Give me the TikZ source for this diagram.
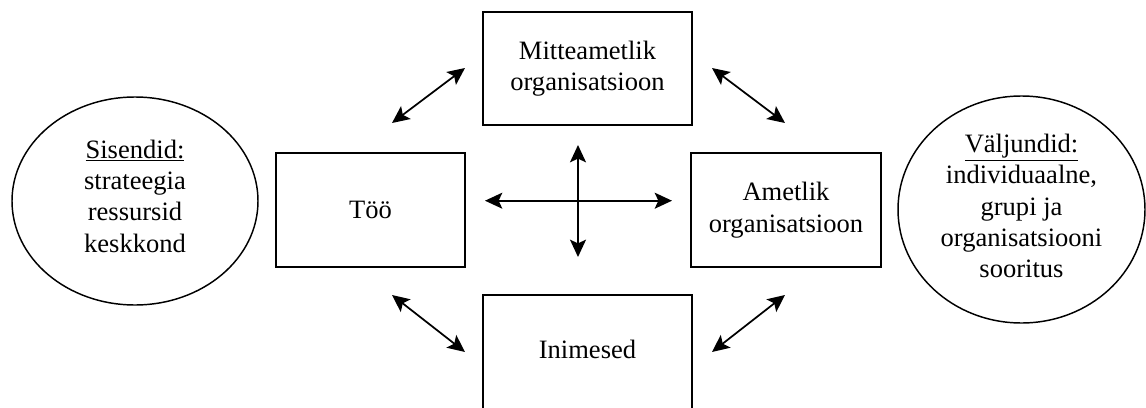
\documentclass[tikz,border=0pt]{standalone}
\usepackage{fontspec}
\setmainfont{Liberation Serif}
\usetikzlibrary{arrows.meta,shapes.geometric}
\begin{document}
\begin{tikzpicture}[x=0.75pt,y=-0.75pt,
  every node/.style={font=\fontsize{19.9}{23.5}\selectfont, align=center, inner sep=0pt, outer sep=0pt},
  unit/.style={draw, line width=1.2pt, rectangle},
  oval/.style={draw, line width=1.1pt, ellipse},
  link/.style={line width=1.3pt, {Stealth[length=13pt,width=12pt,inset=2.8pt]}-{Stealth[length=13pt,width=12pt,inset=2.8pt]}}]
\useasboundingbox (0,0) rectangle (1146,407);
\clip (0,0) rectangle (1146,407);

% inputs and outputs
\node[oval, minimum width=184.5pt, minimum height=156pt] (inputs) at (135,201) {};
\node (inputstext) at (135,196) {\underline{Sisendid:}\\strateegia\\ressursid\\keskkond};
\node[oval, minimum width=185.25pt, minimum height=170.25pt] (outputs) at (1021.5,209.5) {};
\node (outputstext) at (1021.5,206) {\underline{Väljundid:}\\individuaalne,\\grupi ja\\organisatsiooni\\sooritus};

% the four components
\node[unit, minimum width=156.75pt, minimum height=84.75pt] (informal) at (587.5,68.5) {Mitteametlik\\organisatsioon};
\node[unit, minimum width=141.75pt, minimum height=85.5pt] (work) at (370.5,210) {Töö};
\node[unit, minimum width=142.5pt, minimum height=85.5pt] (formal) at (786,210) {Ametlik\\organisatsioon};
\node[unit, minimum width=156.75pt, minimum height=108.75pt] (people) at (587.5,367.5) {};
\node (peopletext) at (587.5,349) {Inimesed};

% arrow end points
\coordinate (tlA) at (392,123);
\coordinate (tlB) at (465,68);
\coordinate (trA) at (712,68);
\coordinate (trB) at (785,123);
\coordinate (blA) at (392,295);
\coordinate (blB) at (465,352);
\coordinate (brA) at (712,352);
\coordinate (brB) at (785,295);
\coordinate (hL) at (485,200.7);
\coordinate (hR) at (672,200.7);
\coordinate (vT) at (578,145);
\coordinate (vB) at (578,257);

% interactions
\draw[link] (tlA) -- (tlB);
\draw[link] (trA) -- (trB);
\draw[link] (blA) -- (blB);
\draw[link] (brA) -- (brB);
\draw[link] (hL) -- (hR);
\draw[link] (vT) -- (vB);
\end{tikzpicture}
\end{document}
